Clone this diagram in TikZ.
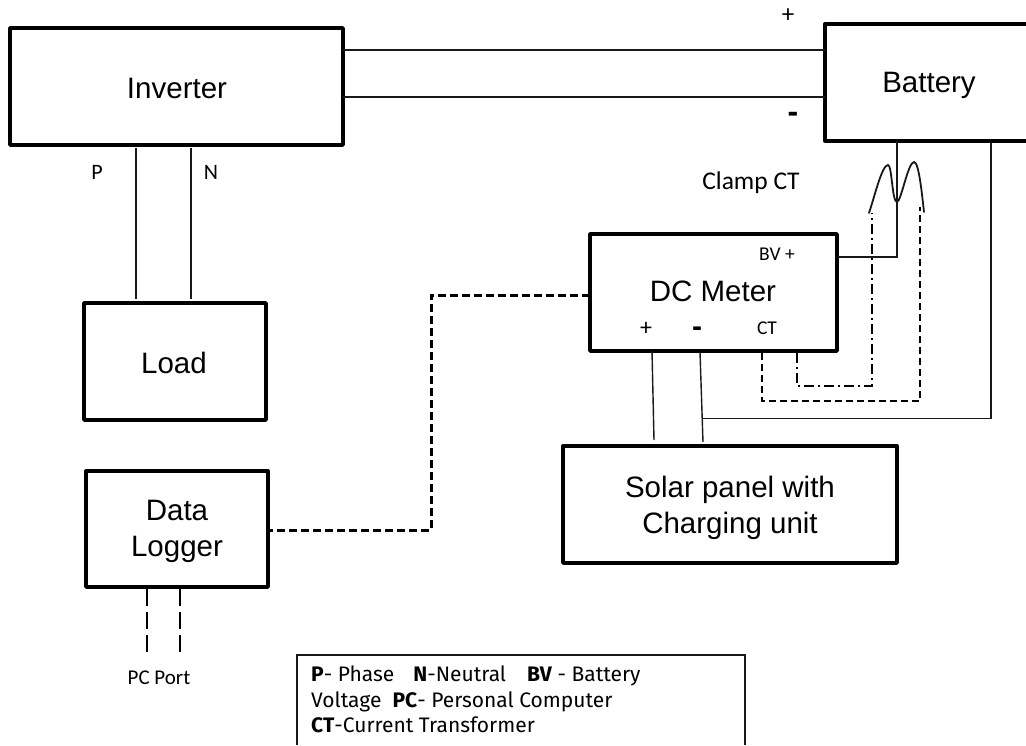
\documentclass[tikz,border=0pt]{standalone}
\usepackage{fontspec}
\setmainfont{Liberation Sans}
\newfontfamily\lab{Carlito}
\newfontfamily\leg{Fira Sans}
\tikzset{
 x=1pt,y=-1pt,
 blk/.style={draw=black,line width=3.4pt,line join=round,inner sep=0,outer sep=0,anchor=north west},
 wire/.style={draw=black!90,line width=1.4pt},
 dash1/.style={draw=black,line width=1.4pt,dash pattern=on 7pt off 4pt},
 dash2/.style={draw=black,line width=1.3pt,dash pattern=on 10pt off 4pt on 2pt off 4pt},
 dash3/.style={draw=black,line width=3pt,dash pattern=on 8pt off 4pt},
 dash4/.style={draw=black,line width=1.2pt,dash pattern=on 17pt off 6pt},
 big/.style={font=\fontsize{29.5}{36}\selectfont,align=center,inner sep=0},
 small/.style={font=\lab\fontsize{19.5}{22}\selectfont,inner sep=0},
}
\begin{document}
\begin{tikzpicture}
\useasboundingbox (0,0) rectangle (1026,745);
\clip (0,0) rectangle (1026,745);
\node[blk,minimum width=333pt,minimum height=117pt] (inv) at (10,28) {};
\node[blk,minimum width=215pt,minimum height=117pt] (bat) at (825,24) {};
\node[blk,minimum width=182pt,minimum height=117pt] (load) at (84,303) {};
\node[blk,minimum width=182pt,minimum height=116pt] (log) at (86,471) {};
\node[blk,minimum width=247pt,minimum height=117pt] (dc) at (590,234) {};
\node[blk,minimum width=334pt,minimum height=117pt] (sol) at (563,446) {};
\node[big] (tinv) at (177,88) {Inverter};
\node[big] (tbat) at (929,85) {Battery};
\node[big] (tload) at (174,363) {Load};
\node[big] (tlog) at (177,531) {Data\\Logger};
\node[big] (tdc) at (713,291) {DC Meter};
\node[big] (tsol) at (730,508) {Solar panel with\\Charging unit};
\node[small,font=\lab\fontsize{22}{24}\selectfont] (tp) at (97,172) {P};
\node[small,font=\lab\fontsize{22}{24}\selectfont] (tn) at (211,172) {N};
\node[small,font=\lab\fontsize{25}{25}\selectfont] (tplus) at (788,16) {+};
\node[small,font=\bfseries\fontsize{32}{32}\selectfont] (tminus) at (793,117) {-};
\node[small,font=\lab\fontsize{25.5}{28}\selectfont] (tclamp) at (751,183) {Clamp CT};
\node[small] (tbv) at (777,254) {BV +};
\node[small,font=\lab\fontsize{24}{24}\selectfont] (tdp) at (646,329) {+};
\node[small,font=\bfseries\fontsize{30}{30}\selectfont] (tdm) at (697,332) {-};
\node[small] (tct) at (767,328) {CT};
\node[small,font=\lab\fontsize{21}{24}\selectfont] (tpc) at (159,678) {PC Port};
\coordinate (lgA) at (297,745); \coordinate (lgB) at (297,655);
\coordinate (lgC) at (745,655); \coordinate (lgD) at (745,745);
\draw[wire] (lgA) -- (lgB) -- (lgC) -- (lgD);
\node[small,anchor=north west,align=left,font=\leg\fontsize{21}{25.5}\selectfont] (tleg) at (311,666) {\textbf{P}- Phase\hspace{19pt}\textbf{N}-Neutral\hspace{21pt}\textbf{BV} - Battery\\Voltage \ \textbf{PC}- Personal Computer\\\textbf{CT}-Current Transformer};
% wires
\draw[wire] (inv.east|-0,50) coordinate (a1) -- (a1-|bat.west);
\draw[wire] (inv.east|-0,97) coordinate (a2) -- (a2-|bat.west);
\draw[wire] (136,148) -- (136,299);
\draw[wire] (191,148) -- (191,299);
\draw[wire] (897,141) -- (897,257) -- (838,257);
\draw[wire] (991,143) -- (991,418.5) -- (703,418.5);
\draw[wire] (652,351) -- (654,440);
\draw[wire] (700,352) -- (703,442);
\draw[dash1] (762,353) -- (762,401) -- (920,401) -- (920,207);
\draw[dash2] (797,353) -- (797,386) -- (872,386) -- (872,213);
\draw[dash3] (590,295) -- (431,295) -- (431,530) -- (268,530);
\draw[dash4] (147,589) -- (147,655);
\draw[dash4] (180,589) -- (180,654);
\draw[wire,line width=1.8pt,line cap=round] (869,213) .. controls (875,195) and (882,165) .. (888,165) .. controls (892,165) and (892,202) .. (897,202) .. controls (901,202) and (908,162) .. (914,162) .. controls (919,162) and (922,195) .. (924,212);
\end{tikzpicture}
\end{document}
